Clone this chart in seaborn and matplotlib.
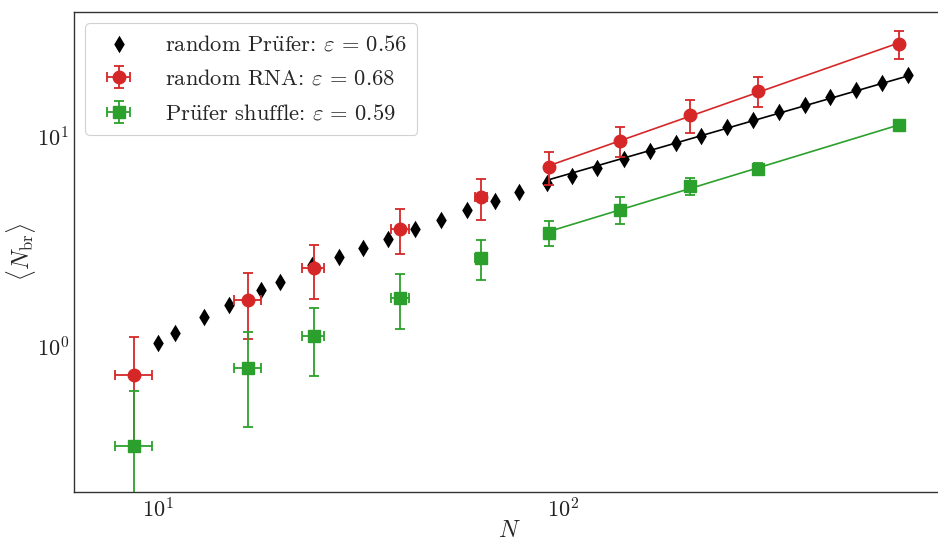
import numpy as np
import pandas as pd
import matplotlib
matplotlib.use("Agg")
import matplotlib.pyplot as plt
import seaborn as sns

# Mean number of branches vs sequence length N
# random Prüfer trees
N_prufer = [10, 11, 13, 15, 18, 20, 24, 28, 32, 37, 43, 50, 58, 68, 78,
            91, 105, 121, 141, 164, 190, 219, 254, 295, 341, 396, 456, 529, 613, 711]
br_prufer = [1.03, 1.15, 1.38, 1.57, 1.85, 2.02, 2.44, 2.67, 2.94, 3.25, 3.63, 4.01,
             4.47, 4.94, 5.45, 6.03, 6.51, 7.10, 7.85, 8.57, 9.36, 10.1, 11.2, 12.1,
             13.2, 14.2, 15.5, 16.8, 18.1, 19.8]

# random RNA and Prüfer shuffle share the same length bins
N_bins = [8.73, 16.7, 24.2, 39.6, 62.7, 92.3, 138, 206, 303, 676]
N_err = [0.92, 1.3, 1.5, 2.0, 2.1, 0, 0, 0, 0, 0]

br_rna = [0.726, 1.66, 2.36, 3.63, 5.16, 7.18, 9.57, 12.7, 16.6, 27.9]
br_rna_err = [0.375, 0.58, 0.68, 0.88, 1.15, 1.3, 1.6, 2.3, 2.65, 4.3]

br_shuffle = [0.332, 0.785, 1.117, 1.70, 2.64, 3.47, 4.48, 5.83, 7.03, 11.4]
br_shuffle_err = [0.277, 0.375, 0.40, 0.50, 0.57, 0.48, 0.66, 0.55, 0.45, 0.15]

# scaling exponents and the lower bound of the fitting window
eps_prufer, eps_rna, eps_shuffle = 0.56, 0.68, 0.59
N_fit_min = 90

# legend labels (the umlaut is set as a Computer Modern accent)
label_prufer = r"random Pr$\ddot{\mathrm{u}}$fer: $\varepsilon\,=\,0.56$"
label_rna = r"random RNA: $\varepsilon\,=\,0.68$"
label_shuffle = r"Pr$\ddot{\mathrm{u}}$fer shuffle: $\varepsilon\,=\,0.59$"

sns.set_theme(style="white")
plt.rcParams.update({
    "font.family": ["cmr10", "STIXGeneral", "DejaVu Serif"],
    "mathtext.fontset": "cm",
    "axes.formatter.use_mathtext": True,
    "font.size": 16,
    "axes.unicode_minus": False,
})


def power_fit(x, y, eps):
    """Line y = A * x**eps with A fitted in log space over the fitting window."""
    x = np.asarray(x, float)
    y = np.asarray(y, float)
    m = x >= N_fit_min
    logA = np.mean(np.log(y[m]) - eps * np.log(x[m]))
    xs = x[m]
    return pd.DataFrame({"N": xs, "fit": np.exp(logA) * xs ** eps})


fig = plt.figure(figsize=(9.38, 5.44), dpi=100)
ax = fig.add_axes([0.0789, 0.0956, 0.9286, 0.8824])
ax.set(xscale="log", yscale="log")

red = "#d62728"
green = "#2ca02c"

df_p = pd.DataFrame({"N": N_prufer, "br": br_prufer})
sns.scatterplot(data=df_p, x="N", y="br", marker="d", s=80, color="black",
                edgecolor="black", linewidth=0, zorder=3, ax=ax,
                label=label_prufer)
fp = power_fit(N_prufer, br_prufer, eps_prufer)
sns.lineplot(data=fp, x="N", y="fit", color="black", lw=1.2, ax=ax, zorder=2)

ax.errorbar(N_bins, br_rna, yerr=br_rna_err, xerr=N_err, fmt="o", color=red,
            ms=9, ecolor=red, elinewidth=1.3, capsize=3.8, capthick=1.3,
            zorder=4, label=label_rna)
fr = power_fit(N_bins, br_rna, eps_rna)
sns.lineplot(data=fr, x="N", y="fit", color=red, lw=1.2, ax=ax, zorder=2)

ax.errorbar(N_bins, br_shuffle, yerr=br_shuffle_err, xerr=N_err, fmt="s", color=green,
            ms=8.5, ecolor=green, elinewidth=1.3, capsize=3.8, capthick=1.3,
            zorder=4, label=label_shuffle)
fs = power_fit(N_bins, br_shuffle, eps_shuffle)
sns.lineplot(data=fs, x="N", y="fit", color=green, lw=1.2, ax=ax, zorder=2)

ax.set_xlim(6.2, 877)
ax.set_ylim(0.2, 39.6)
ax.set_xlabel(r"$N$", fontsize=17, labelpad=-1)
ax.set_ylabel(r"$\langle N_{\rm br}\rangle$", fontsize=17, labelpad=-1)

ax.tick_params(which="both", direction="in", colors="#222222", labelsize=16)
ax.tick_params(which="major", length=3.5, width=0.9)
ax.tick_params(which="minor", length=2, width=0.7)
for side in ax.spines.values():
    side.set_color("#333333")
    side.set_linewidth(1.0)

h, l = ax.get_legend_handles_labels()
leg = ax.legend(h, l, loc="upper left", fontsize=16.2, frameon=True, fancybox=True,
                edgecolor="#cccccc", framealpha=0.9, handletextpad=1.05,
                borderpad=0.48, labelspacing=0.66)
leg.get_frame().set_linewidth(0.8)

fig.savefig("out.png", dpi=100)
